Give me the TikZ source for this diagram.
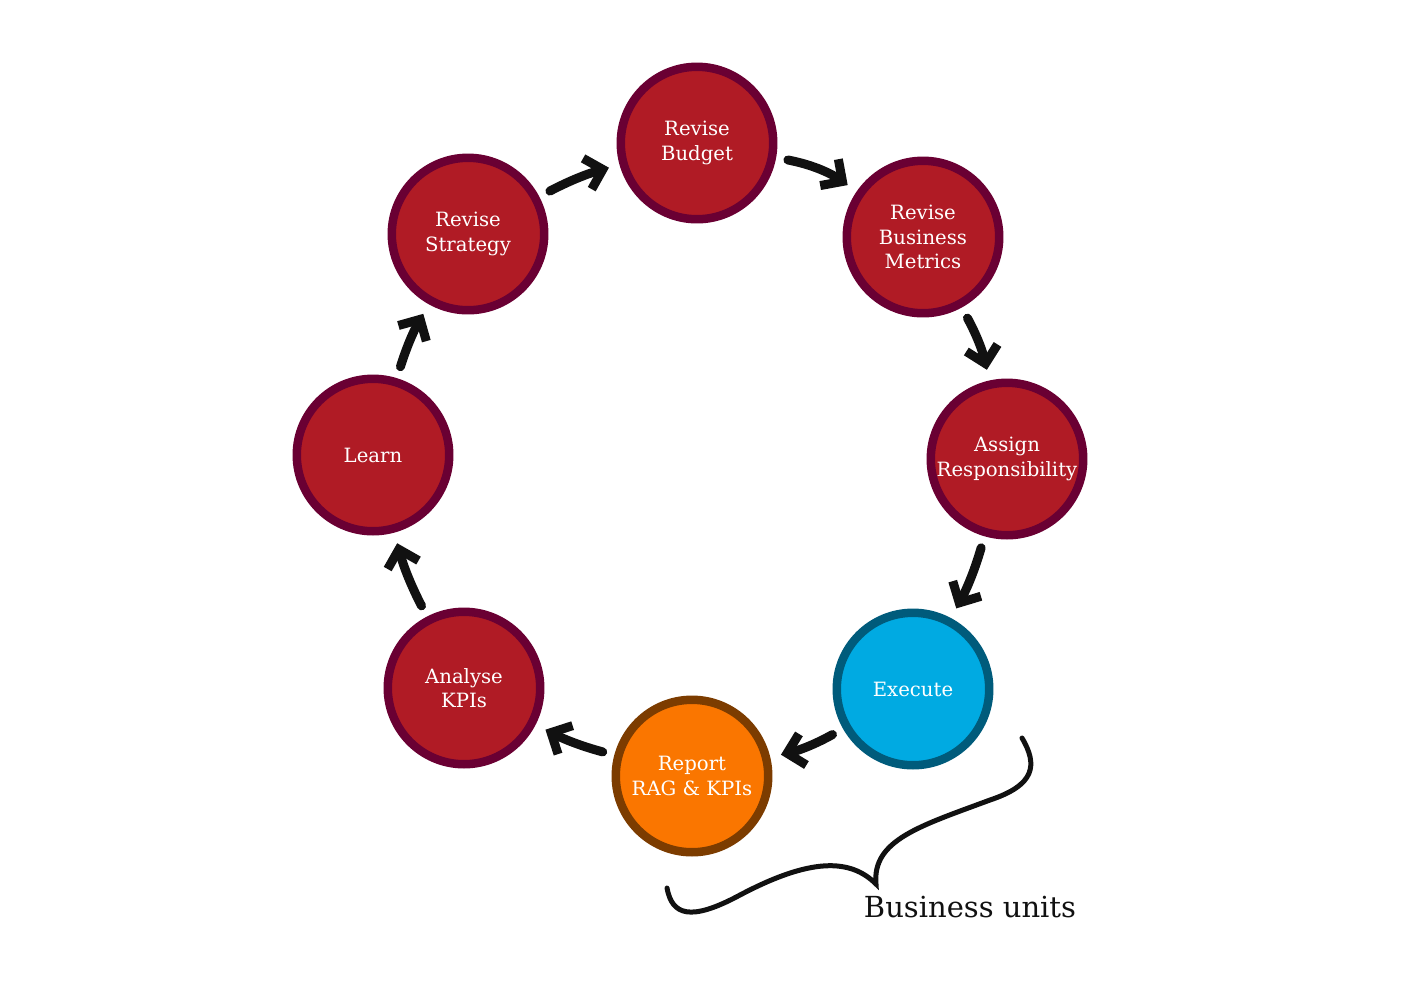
\documentclass[tikz,border=0pt]{standalone}
\usepackage{fontspec}
\setmainfont{DejaVu Serif}
\usetikzlibrary{arrows.meta}
\definecolor{stepred}{HTML}{B01B25}
\definecolor{stepedge}{HTML}{6A0033}
\definecolor{execblue}{HTML}{00AAE2}
\definecolor{execedge}{HTML}{005B7B}
\definecolor{reportorange}{HTML}{FA7600}
\definecolor{reportedge}{HTML}{7C3C00}
\definecolor{inkblack}{HTML}{111111}

\begin{document}
\begin{tikzpicture}
	[
	x = 0.02cm, y = -0.02cm,
	> = {Straight Barb[length=3.2mm,width=6.4mm]},
	blob/.style = {circle, draw=stepedge, fill=stepred, line width=0.17cm, minimum size=3.05cm, inner sep=0pt,
		text=white, align=center, font=\fontsize{11.2}{13.8}\selectfont},
	exec/.style = {blob, draw=execedge, fill=execblue},
	rep/.style = {blob, draw=reportedge, fill=reportorange},
	flow/.style = {->, draw=inkblack, line width=0.18cm, line cap=round, line join=round, shorten <=0.24cm, shorten >=0.22cm}
	]
		\useasboundingbox (0,0) rectangle (1403,992);

		\node[blob] (budget)   at (697,143) {Revise\\Budget};
		\node[blob] (metrics)  at (923,237) {Revise\\Business\\Metrics};
		\node[blob] (assign)   at (1007,459) {Assign\\Responsibility};
		\node[exec] (execute)  at (913,689) {Execute};
		\node[rep]  (report)   at (692,776) {Report\\RAG \& KPIs};
		\node[blob] (analyse)  at (464,688) {Analyse\\KPIs};
		\node[blob] (learn)    at (373,455) {Learn};
		\node[blob] (strategy) at (468,234) {Revise\\Strategy};

		\draw[flow] (strategy) to[bend left=6] (budget);
		\draw[flow] (budget) to[bend left=12] (metrics);
		\draw[flow] (metrics) to[bend left=8] (assign);
		\draw[flow] (assign) to[bend left=6] (execute);
		\draw[flow] (execute) to[bend left=8] (report);
		\draw[flow] (report) to[bend left=6] (analyse);
		\draw[flow] (analyse) to[bend left=6] (learn);
		\draw[flow] (learn) to[bend left=6] (strategy);

		% brace under execute and report
		\coordinate (bracetop) at (1022,738);
		\coordinate (bracetip) at (876,884);
		\coordinate (braceend) at (667,888);
		\draw[inkblack, line width=0.1cm, line cap=round]
			(bracetop) .. controls (1038,765) and (1035,785) .. (990,800)
			.. controls (920,826) and (872,840) .. (bracetip)
			.. controls (850,858) and (810,858) .. (740,895)
			.. controls (690,922) and (672,915) .. (braceend);
		\node[font=\fontsize{16.5}{19}\selectfont, text=inkblack, anchor=north] (units) at (970,890) {Business units};
\end{tikzpicture}
\end{document}
